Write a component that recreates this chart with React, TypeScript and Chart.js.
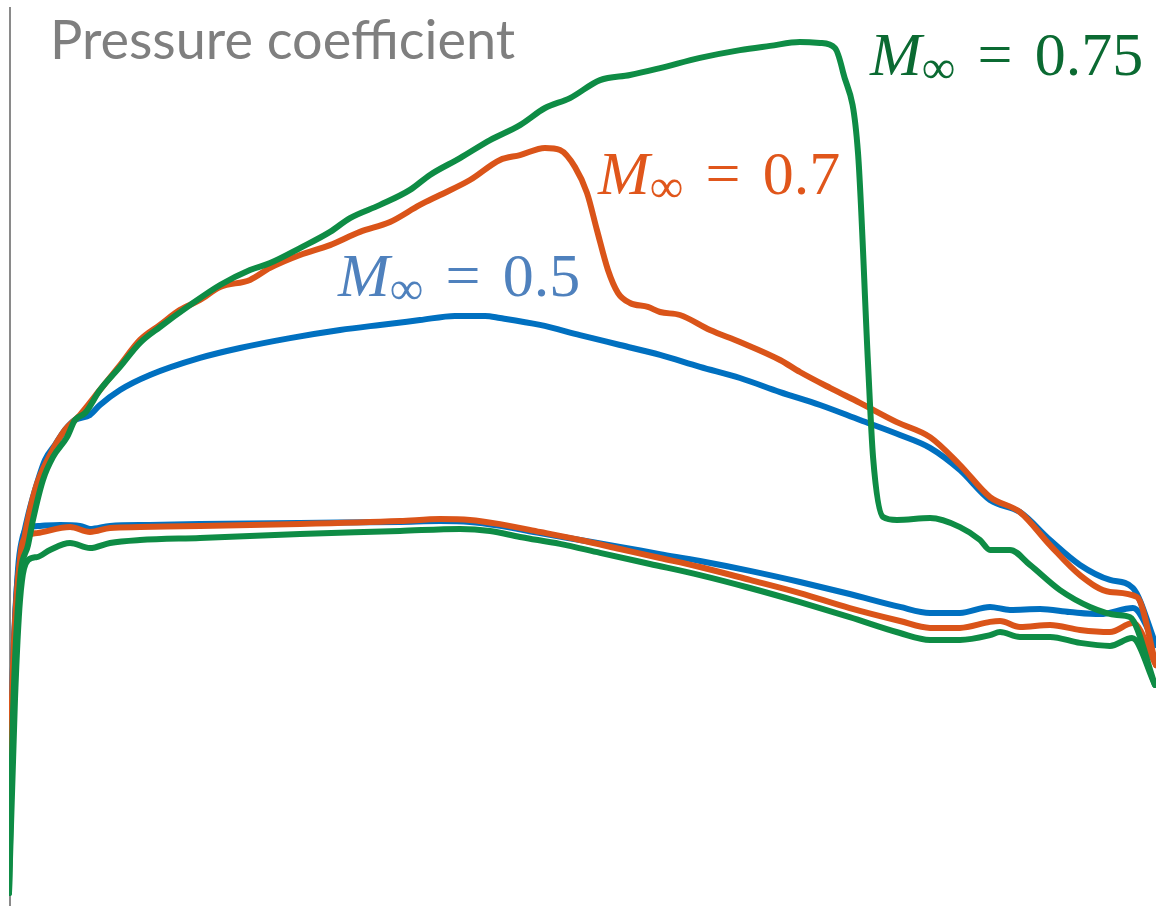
import React, { useEffect, useRef } from "react";
import { Chart, registerables } from "chart.js";

Chart.register(...registerables);

// Chord position x/c in %, pressure coefficient Cp (negative = suction, drawn upward)
const m05UpperX = [0, 0.26, 0.61, 1.13, 1.57, 2.27, 3.14, 4.01, 4.88, 5.75, 7.06, 7.93, 9.68, 12.29, 16.65, 20.14, 24.5, 28.86, 32.35, 35.83, 38.88, 41.5, 42.81, 46.29, 49.78, 53.27, 56.76, 60.24, 63.73, 67.22, 70.71, 74.19, 77.68, 80.3, 82.91, 85.53, 88.14, 90.76, 93.37, 95.99, 97.99, 100];
const m05UpperCp = [0.867, 0.333, 0, -0.183, -0.267, -0.367, -0.467, -0.517, -0.567, -0.6, -0.617, -0.65, -0.7, -0.75, -0.807, -0.84, -0.873, -0.9, -0.917, -0.933, -0.947, -0.947, -0.94, -0.917, -0.883, -0.85, -0.817, -0.777, -0.74, -0.693, -0.65, -0.6, -0.55, -0.507, -0.433, -0.333, -0.293, -0.2, -0.117, -0.067, -0.04, 0.15];
const m05LowerX = [0, 0.44, 0.78, 1.13, 1.66, 2.7, 4.45, 6.19, 7.06, 8.81, 12.29, 16.65, 25.37, 34.09, 37.58, 40.19, 42.81, 46.29, 49.78, 53.27, 56.76, 60.24, 64.6, 68.96, 73.3, 77.68, 80.3, 82.91, 85.53, 87.27, 89.89, 92.5, 95.12, 97.99, 100];
const m05LowerCp = [0.867, 0.167, -0.1, -0.2, -0.24, -0.247, -0.25, -0.247, -0.237, -0.247, -0.25, -0.253, -0.257, -0.26, -0.263, -0.26, -0.247, -0.223, -0.2, -0.177, -0.153, -0.13, -0.097, -0.06, -0.02, 0.023, 0.043, 0.043, 0.023, 0.033, 0.03, 0.04, 0.047, 0.027, 0.15];

const m07UpperX = [0, 0.26, 0.7, 1.31, 2.27, 3.57, 4.88, 6.19, 7.93, 9.68, 11.42, 13.16, 14.91, 16.65, 18.4, 21.01, 22.76, 25.37, 27.99, 30.6, 33.22, 35.83, 37.58, 40.19, 42.81, 44.55, 46.73, 48.04, 49.35, 50.39, 51.26, 52.22, 53.1, 54.14, 55.7, 56.76, 58.5, 61.12, 63.73, 67.22, 68.96, 71.58, 74.19, 77.4, 80.3, 82.91, 85.53, 88.14, 90.76, 93.37, 95.99, 98.34, 100];
const m07UpperCp = [0.9, 0.333, -0.033, -0.2, -0.367, -0.483, -0.567, -0.617, -0.7, -0.783, -0.867, -0.917, -0.967, -1.0, -1.043, -1.067, -1.107, -1.15, -1.183, -1.227, -1.26, -1.317, -1.35, -1.4, -1.467, -1.483, -1.507, -1.5, -1.443, -1.357, -1.233, -1.1, -1.023, -0.99, -0.977, -0.96, -0.95, -0.9, -0.86, -0.8, -0.76, -0.707, -0.657, -0.593, -0.543, -0.45, -0.343, -0.293, -0.183, -0.083, -0.027, -0.01, 0.217];
const m07LowerX = [0, 0.52, 0.96, 1.39, 2.44, 5.32, 7.06, 8.81, 11.42, 16.65, 25.37, 34.09, 37.58, 40.19, 42.81, 46.29, 49.78, 53.27, 56.76, 60.24, 64.6, 68.96, 73.3, 77.68, 80.3, 82.91, 85.53, 86.4, 88.14, 90.76, 93.37, 95.99, 97.99, 100];
const m07LowerCp = [0.9, 0.167, -0.133, -0.207, -0.223, -0.243, -0.227, -0.24, -0.243, -0.247, -0.253, -0.263, -0.27, -0.267, -0.253, -0.227, -0.2, -0.17, -0.14, -0.11, -0.067, -0.023, 0.027, 0.07, 0.093, 0.093, 0.073, 0.07, 0.09, 0.083, 0.1, 0.107, 0.077, 0.217];

const m075UpperX = [0, 0.35, 0.96, 1.66, 2.09, 2.96, 3.84, 5.06, 5.75, 6.63, 7.93, 9.68, 11.42, 13.16, 15.78, 18.4, 21.01, 22.76, 25.37, 27.99, 29.73, 32.35, 34.96, 36.7, 39.32, 41.94, 44.55, 46.73, 48.91, 51.53, 54.14, 56.76, 60.24, 63.73, 66.35, 68.96, 70.71, 72.01, 72.71, 74.02, 74.89, 75.33, 76.2, 77.42, 80.3, 82.91, 84.66, 85.53, 87.27, 89.01, 91.63, 94.25, 96.6, 97.73, 99.91];
const m075UpperCp = [0.977, 0.377, -0.067, -0.183, -0.267, -0.4, -0.477, -0.543, -0.6, -0.623, -0.7, -0.777, -0.857, -0.91, -0.983, -1.05, -1.1, -1.123, -1.173, -1.227, -1.273, -1.317, -1.367, -1.417, -1.473, -1.533, -1.583, -1.64, -1.673, -1.733, -1.75, -1.773, -1.807, -1.833, -1.847, -1.86, -1.857, -1.84, -1.76, -1.49, -0.79, -0.477, -0.277, -0.267, -0.273, -0.243, -0.2, -0.167, -0.167, -0.117, -0.033, 0.023, 0.05, 0.057, 0.283];
const m075LowerX = [0, 0.52, 0.96, 1.66, 2.44, 3.57, 5.32, 7.06, 8.81, 11.42, 16.65, 25.37, 34.09, 39.32, 41.94, 44.55, 48.04, 51.53, 55.88, 60.24, 64.6, 68.96, 73.3, 77.68, 80.3, 82.91, 85.53, 86.4, 88.14, 90.76, 93.37, 95.99, 97.91, 99.91];
const m075LowerCp = [0.977, 0.333, 0, -0.133, -0.143, -0.167, -0.19, -0.173, -0.19, -0.2, -0.207, -0.22, -0.23, -0.237, -0.23, -0.21, -0.187, -0.157, -0.12, -0.083, -0.04, 0.007, 0.057, 0.11, 0.133, 0.133, 0.117, 0.107, 0.123, 0.123, 0.143, 0.153, 0.127, 0.283];

const machNumbers = ["0.75", "0.7", "0.5"];
const lineColors = ["#0E8C45", "#DA5419", "#0070C0"];
const labelColors = ["#0B6A32", "#E0561B", "#4F81BD"];
const titleText = "Pressure coefficient";

const pts = (xs: number[], ys: number[]) => xs.map((x, i) => ({ x, y: ys[i] }));

const axisLinePlugin = {
  id: "axisLine",
  beforeDatasetsDraw(chart: any) {
    const { ctx, chartArea } = chart;
    ctx.save();
    ctx.strokeStyle = "#8a8a8a";
    ctx.lineWidth = 2;
    ctx.beginPath();
    ctx.moveTo(chartArea.left + 1, chartArea.top + 7);
    ctx.lineTo(chartArea.left + 1, chartArea.bottom);
    ctx.stroke();
    ctx.restore();
  },
};

function MachLabel({ value, color, left, baseline }: { value: string; color: string; left: number; baseline: number }) {
  const size = 62;
  return (
    <div
      style={{
        position: "absolute",
        left,
        top: baseline - Math.round(size * 0.8375),
        fontFamily: '"Liberation Serif", serif',
        fontSize: size,
        lineHeight: `${size}px`,
        color,
        whiteSpace: "nowrap",
      }}
    >
      <span style={{ fontStyle: "italic" }}>M</span>
      <span style={{ fontSize: "0.76em", position: "relative", top: "0.16em" }}>∞</span>
      <span style={{ margin: "0 0.36em" }}>=</span>
      <span>{value}</span>
    </div>
  );
}

export default function App() {
  const canvasRef = useRef<HTMLCanvasElement>(null);

  useEffect(() => {
    const series = [
      [m075UpperX, m075UpperCp, m075LowerX, m075LowerCp],
      [m07UpperX, m07UpperCp, m07LowerX, m07LowerCp],
      [m05UpperX, m05UpperCp, m05LowerX, m05LowerCp],
    ];
    const datasets: any[] = [];
    series.forEach((s, i) => {
      const base = {
        borderColor: lineColors[i],
        borderWidth: 6,
        pointRadius: 0,
        cubicInterpolationMode: "monotone",
        fill: false,
        borderCapStyle: "round",
        borderJoinStyle: "round",
      };
      datasets.push({ ...base, label: `M∞ = ${machNumbers[i]} upper`, data: pts(s[0], s[1]) });
      datasets.push({ ...base, label: `M∞ = ${machNumbers[i]} lower`, data: pts(s[2], s[3]) });
    });
    const chart = new Chart(canvasRef.current as HTMLCanvasElement, {
      type: "line",
      data: { datasets },
      options: {
        animation: false,
        responsive: false,
        layout: { padding: { left: 9, right: 0, top: 0, bottom: 0 } },
        plugins: { legend: { display: false }, tooltip: { enabled: false }, title: { display: false } },
        scales: {
          x: { type: "linear", min: 0, max: 100, display: false },
          y: { type: "linear", min: -2.0, max: 1.02, reverse: true, display: false },
        },
      },
      plugins: [axisLinePlugin],
    } as any);
    return () => chart.destroy();
  }, []);

  return (
    <div style={{ position: "absolute", left: 0, top: 0, width: 1156, height: 906, background: "#fff", overflow: "hidden" }}>
      <canvas ref={canvasRef} width={1156} height={906} style={{ position: "absolute", left: 0, top: 0, width: 1156, height: 906 }} />
      <div
        style={{
          position: "absolute",
          left: 50,
          top: 12,
          fontFamily: "Lato, sans-serif",
          fontSize: 54,
          lineHeight: "54px",
          color: "#7f7f7f",
          whiteSpace: "nowrap",
        }}
      >
        {titleText}
      </div>
      <MachLabel value={machNumbers[0]} color={labelColors[0]} left={870} baseline={75} />
      <MachLabel value={machNumbers[1]} color={labelColors[1]} left={598} baseline={194} />
      <MachLabel value={machNumbers[2]} color={labelColors[2]} left={338} baseline={296} />
    </div>
  );
}
